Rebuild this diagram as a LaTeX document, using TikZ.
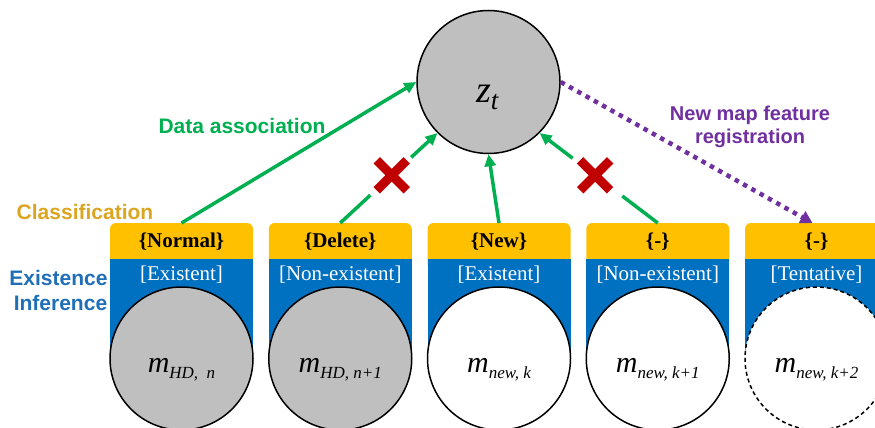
\documentclass[tikz,border=0pt]{standalone}
\usepackage{fontspec}
\setmainfont{Liberation Serif}
\setsansfont{Liberation Sans}
\usetikzlibrary{arrows.meta,calc}

\definecolor{clsyellow}{HTML}{FFC000}
\definecolor{exblue}{HTML}{0070C0}
\definecolor{assocgreen}{HTML}{00B050}
\definecolor{crossred}{HTML}{C00000}
\definecolor{regpurple}{HTML}{7030A0}
\definecolor{nodegray}{HTML}{BFBFBF}
\definecolor{clstext}{HTML}{DAA520}
\definecolor{extext}{HTML}{1F6FB8}

\newcommand{\fs}[1]{\fontsize{#1}{#1}\selectfont}
\newcommand{\mlab}[1]{{\fs{30}\itshape m}\raisebox{-6pt}{\fs{17}\itshape #1}}

\begin{document}
\begin{tikzpicture}[x=1pt,y=-1pt,
  sidelabel/.style={font=\sffamily\bfseries\fs{21}, inner sep=0pt, anchor=base},
  clsbox/.style={minimum width=143pt, minimum height=36pt, inner sep=0pt,
    anchor=north, font=\bfseries\fs{21}},
  extag/.style={text=white, font=\fs{21}, inner sep=0pt, anchor=base},
  feature/.style={circle, draw=black, line width=1.5pt, minimum size=143pt, inner sep=0pt},
  solidring/.style={solid},
  dashring/.style={dash pattern=on 4pt off 3pt},
  assoc/.style={draw=assocgreen, line width=3.5pt},
  link/.style={assoc, -{Triangle[length=12pt,width=11pt]}},
  crossbar/.style={draw=crossred, line width=9pt},
  register/.style={draw=regpurple, line width=4.5pt, dash pattern=on 4.5pt off 5pt,
    -{Triangle[length=12pt,width=13pt]}}
]
\useasboundingbox (0,0) rectangle (875,428);

% map feature columns: class tag, existence tag, feature node
\foreach \i/\x/\cls/\ex/\sub/\fillc/\ring in {
  1/181.5/{\{Normal\}}/{[Existent]}/{HD,~~n}/nodegray/solidring,
  2/340.25/{\{Delete\}}/{[Non-existent]}/{HD, n+1}/nodegray/solidring,
  3/499/{\{New\}}/{[Existent]}/{new, k}/white/solidring,
  4/657.75/{\{-\}}/{[Non-existent]}/{new, k+1}/white/solidring,
  5/816.5/{\{-\}}/{[Tentative]}/{new, k+2}/white/dashring} {
  \fill[clsyellow, rounded corners=6pt] (\x-71.5,223) rectangle (\x+71.5,270);
  \fill[exblue] (\x-71.5,259) rectangle (\x+71.5,358.5);
  \node[clsbox] (cls\i) at (\x,223) {\cls};
  \node[extag] (ex\i) at (\x,280) {\ex};
  \node[feature, fill=\fillc, \ring] (m\i) at (\x,358.5) {};
  \node[anchor=base, inner sep=0pt] (mlab\i) at (\x,372) {\mlab{\sub}};
}

% measurement node
\node[feature, fill=nodegray] (zt) at (488.5,82) {};
\node[anchor=base west, inner sep=0pt] (ztlab) at (476,102)
  {{\fs{38}\itshape z}\raisebox{-7pt}{\fs{27}\itshape t}};

% data association links
\draw[link] (cls1.north) -- (zt.180);
\draw[link] (cls3.north) -- (zt.270);

\draw[assoc] (cls2.north) -- ($(cls2.north)!0.31!(zt.225)$);
\draw[link] ($(cls2.north)!0.73!(zt.225)$) -- (zt.225);
\coordinate (xa) at ($(cls2.north)!0.53!(zt.225)$);
\draw[crossbar] ($(xa)+(-15,-15)$) -- ($(xa)+(15,15)$);
\draw[crossbar] ($(xa)+(-15,15)$) -- ($(xa)+(15,-15)$);

\draw[assoc] (cls4.north) -- ($(cls4.north)!0.30!(zt.315)$);
\draw[link] ($(cls4.north)!0.72!(zt.315)$) -- (zt.315);
\coordinate (xb) at ($(cls4.north)!0.53!(zt.315)$);
\draw[crossbar] ($(xb)+(-15,-15)$) -- ($(xb)+(15,15)$);
\draw[crossbar] ($(xb)+(-15,15)$) -- ($(xb)+(15,-15)$);

% new feature registration
\draw[register] (zt.0) -- ([xshift=-4pt]cls5.north);

% labels
\node[sidelabel, text=assocgreen] (lblassoc) at (242,133) {Data association};
\node[sidelabel, text=clstext] (lblcls) at (85,219) {Classification};
\node[sidelabel, text=extext] (lblex1) at (58.5,285) {Existence};
\node[sidelabel, text=extext] (lblex2) at (60.5,310) {Inference};
\node[sidelabel, text=regpurple, font=\sffamily\bfseries\fs{20}] (lblreg1) at (750,120) {New map feature};
\node[sidelabel, text=regpurple, font=\sffamily\bfseries\fs{20}] (lblreg2) at (750,143) {registration};
\end{tikzpicture}
\end{document}
